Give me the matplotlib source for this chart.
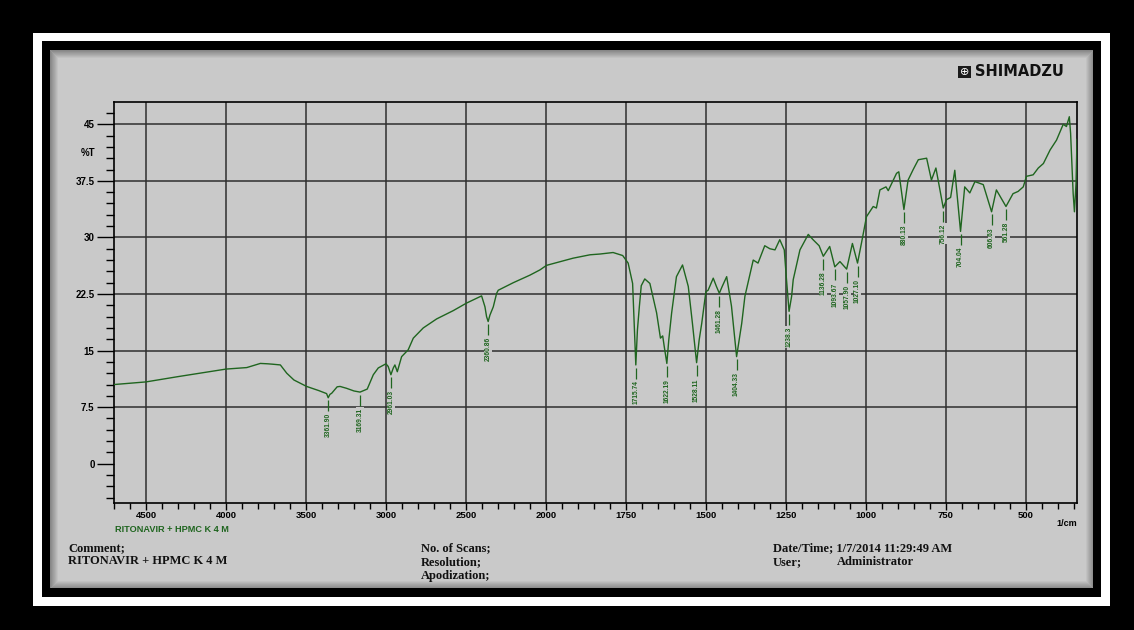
import numpy as np
import matplotlib.pyplot as plt
from matplotlib.patches import Rectangle
from matplotlib.ticker import FixedLocator, MultipleLocator

# spectrum (1/cm, %T)
wavenumber = [4700, 4500, 4300, 4000, 3870, 3785, 3740, 3710, 3660, 3620, 3575, 3496,
              3420, 3371, 3361, 3350, 3339, 3305, 3287, 3246, 3200, 3162, 3117, 3079,
              3048, 3000, 2986, 2969, 2954, 2944, 2929, 2902, 2861, 2829, 2767, 2683,
              2579, 2496, 2402, 2381, 2371, 2361, 2350, 2329, 2308, 2298, 2204, 2100,
              2037, 1998, 1915, 1862, 1831, 1790, 1760, 1743, 1729, 1722, 1719, 1714,
              1708, 1702, 1691, 1675, 1654, 1642, 1635, 1630, 1622, 1616, 1607, 1592,
              1573, 1555, 1542, 1529, 1521, 1513, 1500, 1493, 1477, 1467, 1458, 1449,
              1435, 1420, 1404, 1388, 1378, 1352, 1337, 1316, 1300, 1284, 1269, 1255,
              1248, 1240, 1232, 1227, 1206, 1180, 1165, 1146, 1133, 1113, 1097, 1081,
              1060, 1042, 1026, 1013, 998, 977, 967, 956, 937, 930, 904, 897,
              881, 868, 852, 836, 810, 795, 781, 758, 748, 735, 722, 704,
              691, 675, 659, 633, 607, 592, 562, 540, 524, 508, 498, 477,
              461, 445, 424, 404, 383, 373, 364, 360, 352, 348, 343, 340]
transmittance = [10.5, 10.85, 11.55, 12.55, 12.75, 13.3, 13.25, 13.2, 13.1, 12.0, 11.1, 10.25,
                 9.7, 9.3, 8.75, 9.2, 9.35, 10.2, 10.25, 10.0, 9.65, 9.5, 9.9, 11.8,
                 12.7, 13.25, 12.9, 11.8, 12.7, 13.1, 12.2, 14.2, 15.1, 16.65, 18.0, 19.2,
                 20.3, 21.3, 22.25, 20.8, 19.5, 18.85, 19.7, 20.8, 22.6, 23.0, 24.0, 25.0,
                 25.7, 26.3, 27.25, 27.7, 27.8, 28.0, 27.6, 26.6, 23.9, 16.4, 13.1, 17.7,
                 20.8, 23.6, 24.5, 23.9, 20.0, 16.65, 16.95, 15.5, 13.3, 16.4, 20.0, 24.8,
                 26.35, 23.5, 18.6, 13.4, 16.4, 18.6, 22.8, 23.0, 24.6, 23.5, 22.6, 23.5,
                 24.8, 20.9, 14.2, 18.6, 22.2, 27.0, 26.6, 28.9, 28.5, 28.35, 29.7, 28.35,
                 24.4, 20.2, 22.2, 24.4, 28.35, 30.4, 29.7, 28.9, 27.5, 28.8, 26.1, 26.8,
                 25.8, 29.2, 26.6, 29.4, 32.75, 34.1, 33.9, 36.3, 36.7, 36.2, 38.5, 38.7,
                 33.7, 37.6, 39.0, 40.3, 40.5, 37.6, 39.2, 33.9, 35.0, 35.3, 38.9, 30.8,
                 36.7, 35.9, 37.4, 37.0, 33.4, 36.3, 34.1, 35.8, 36.1, 36.7, 38.1, 38.3,
                 39.2, 39.8, 41.6, 42.9, 45.0, 44.7, 46.0, 43.8, 35.8, 33.4, 37.2, 43.0]

peak_wn = [3361, 3162, 2969, 2361, 1719, 1622, 1529, 1458, 1404, 1240,
           1133, 1097, 1060, 1026, 881, 758, 704, 607, 562]
peak_txt = ["3361.90", "3169.31", "2961.03", "2360.86", "1715.74", "1622.19", "1528.11",
            "1461.28", "1404.33", "1238.3", "1136.28", "1093.67", "1057.90", "1027.10",
            "880.13", "756.12", "704.04", "606.63", "561.28"]

x_major = [4500, 4000, 3500, 3000, 2500, 2000, 1750, 1500, 1250, 1000, 750, 500]
y_major = [45, 37.5, 30, 22.5, 15, 7.5, 0]
y_labels = ["45", "37.5", "30", "22.5", "15", "7.5", "0"]
y_grid = [45, 37.5, 30, 22.5, 15, 7.5]
sample = "RITONAVIR + HPMC K 4 M"

W, H = 1134, 630
green = "#1f651f"
panel = "#c9c9c9"

plt.rcParams['font.family'] = ['Liberation Sans', 'DejaVu Sans']
fig = plt.figure(figsize=(W / 100, H / 100), dpi=100, facecolor="black")


def box(x0, y0, x1, y1, color, z, **kw):
    r = Rectangle((x0 / W, 1 - y1 / H), (x1 - x0) / W, (y1 - y0) / H,
                  transform=fig.transFigure, facecolor=color, edgecolor="none", zorder=z, **kw)
    fig.patches.append(r)
    return r


def ftext(x, y, s, **kw):
    fig.text(x / W, 1 - y / H, s, **kw)


# frame: white stripe, black, gray sheet
box(33, 33, 1110, 606, "white", -10)
box(42, 41, 1101, 597, "black", -9)
box(50, 50, 1093, 588, panel, -8)
# soft inner shadow on the sheet
for i in range(8):
    r = Rectangle(((50 + i) / W, 1 - (588 - i) / H), (1043 - 2 * i) / W, (538 - 2 * i) / H,
                  transform=fig.transFigure, facecolor="none", edgecolor="black",
                  lw=0.75, alpha=0.32 * (1 - i / 8), zorder=-7)
    fig.patches.append(r)

ax = fig.add_axes([114 / W, 1 - 503 / H, (1077 - 114) / W, (503 - 102) / H])
ax.set_facecolor("none")


def fwd(w):
    w = np.asarray(w, float)
    return np.where(w >= 2000, (w - 2000) / 500.0, (w - 2000) / 250.0)


def inv(u):
    u = np.asarray(u, float)
    return np.where(u >= 0, u * 500 + 2000, u * 250 + 2000)


ax.set_xscale("function", functions=(fwd, inv))
ax.set_xlim(4700, 340)
ax.set_ylim(-5.2, 47.95)

ax.plot(wavenumber, transmittance, color=green, lw=1.0, zorder=4)

# peak markers
wn_sorted = np.array(wavenumber[::-1], float)
t_sorted = np.array(transmittance[::-1], float)
for w, s in zip(peak_wn, peak_txt):
    t = np.interp(w, wn_sorted, t_sorted)
    ax.vlines(w, t - 1.8, t - 0.35, color=green, lw=0.9, zorder=5)
    ax.text(w, t - 2.05, s, rotation=90, ha="center", va="top", fontsize=4.8,
            color=green, fontweight="bold", zorder=6,
            bbox=dict(facecolor=panel, edgecolor="none", pad=0.3))

# grid
for v in x_major:
    ax.axvline(v, color="#2e2e2e", lw=1.1, zorder=1)
for v in y_grid:
    ax.axhline(v, color="#2e2e2e", lw=1.1, zorder=1)

ax.xaxis.set_major_locator(FixedLocator(x_major))
ax.set_xticklabels([str(v) for v in x_major])
minor_x = [v for v in range(4700, 2000, -100) if v not in x_major] + \
          [v for v in range(2000, 340, -50) if v not in x_major]
ax.xaxis.set_minor_locator(FixedLocator(minor_x))
ax.yaxis.set_major_locator(FixedLocator(y_major))
ax.set_yticklabels(y_labels)
ax.yaxis.set_minor_locator(MultipleLocator(1.5))

ax.tick_params(axis="y", which="major", length=12.5, width=1.0, direction="out",
               labelsize=7, pad=1.5, color="black")
ax.tick_params(axis="y", which="minor", length=5.5, width=1.0, direction="out")
ax.tick_params(axis="x", which="major", length=5, width=1.0, direction="out",
               labelsize=6.8, pad=0.8)
ax.tick_params(axis="x", which="minor", length=4.5, width=1.0, direction="out")
for lab in ax.get_xticklabels() + ax.get_yticklabels():
    lab.set_fontweight("bold")
for sp in ax.spines.values():
    sp.set_color("black")
    sp.set_linewidth(1.2)

# texts on the sheet
ftext(88, 153, "%T", fontsize=7, fontweight="bold", ha="center", va="center")
ftext(1067, 524, "1/cm", fontsize=6.5, fontweight="bold", ha="center", va="center")
ftext(115, 525.5, sample, fontsize=6.6, fontweight="bold", color=green, ha="left",
      va="top")

serif = dict(family=["Liberation Serif", "DejaVu Serif"], fontsize=9, fontweight="bold",
             ha="left", va="center", color="#111111")
ftext(68, 548, "Comment;", **serif)
ftext(68, 561, sample, **serif)
ftext(421, 548, "No. of Scans;", **serif)
ftext(421, 562, "Resolution;", **serif)
ftext(421, 576, "Apodization;", **serif)
ftext(773, 548, "Date/Time; 1/7/2014 11:29:49 AM", **serif)
ftext(773, 562, "User;", **serif)
ftext(837, 562, "Administrator", **serif)

# maker logo
box(958, 66, 971, 78, "#1a1a1a", 2)
ftext(964.5, 72, "\u2295", fontsize=8, color="white", ha="center", va="center",
      family=["DejaVu Sans"], zorder=3)
ftext(975, 72, "SHIMADZU", fontsize=10.5, fontweight="bold", ha="left", va="center",
      family=["DejaVu Sans"], color="#111111")

fig.savefig("out.png", dpi=100, facecolor=fig.get_facecolor())
